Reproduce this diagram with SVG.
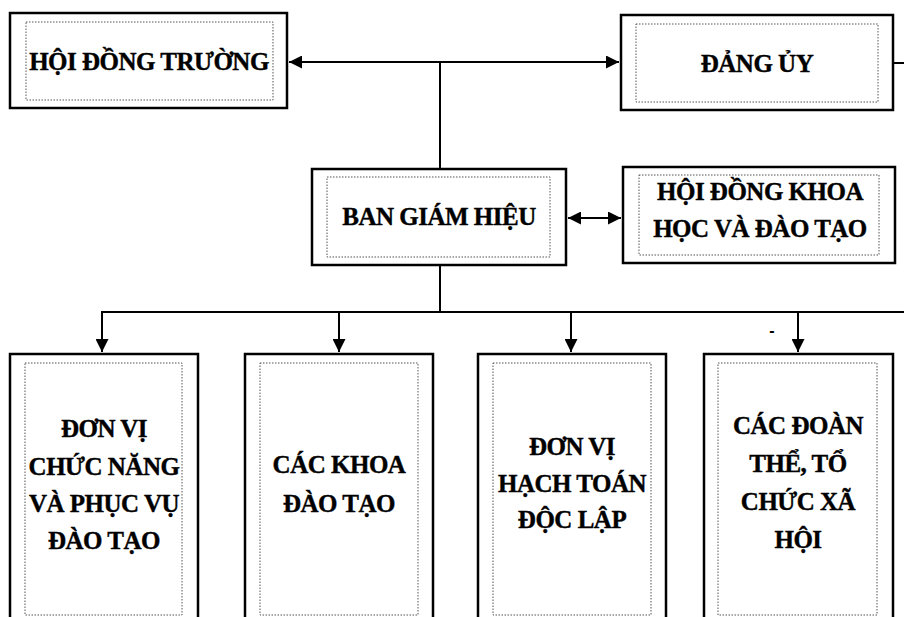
<svg xmlns="http://www.w3.org/2000/svg" width="904" height="617" viewBox="0 0 904 617">
<style>
.outer{fill:#fff;stroke:#000;stroke-width:2.5}
.inner{fill:none;stroke:#555;stroke-width:1;stroke-dasharray:1.5 1.5}
.t{font-family:"Liberation Serif","Times New Roman",serif;font-weight:bold;font-size:25px;letter-spacing:-0.5px;fill:#000;stroke:#000;stroke-width:0.4;text-anchor:middle}
.c{fill:none;stroke:#000;stroke-width:2}
</style>
<defs>
<marker id="ah" viewBox="0 0 10 10" refX="10" refY="5" markerWidth="6.5" markerHeight="6.5" orient="auto-start-reverse" markerUnits="strokeWidth">
<path d="M0,0 L10,5 L0,10 Z" fill="#000"/>
</marker>
</defs>
<rect width="904" height="617" fill="#fff"/>
<g id="connectors">
<line class="c" x1="289" y1="62" x2="619" y2="62" marker-start="url(#ah)" marker-end="url(#ah)"/>
<line class="c" x1="440" y1="62" x2="440" y2="169"/>
<line class="c" x1="893" y1="63" x2="904" y2="63"/>
<line class="c" x1="568" y1="218" x2="621" y2="218" marker-start="url(#ah)" marker-end="url(#ah)"/>
<line class="c" x1="440" y1="265" x2="440" y2="312"/>
<line class="c" x1="101" y1="312" x2="904" y2="312"/>
<line class="c" x1="102" y1="312" x2="102" y2="352" marker-end="url(#ah)"/>
<line class="c" x1="339" y1="312" x2="339" y2="352" marker-end="url(#ah)"/>
<line class="c" x1="571" y1="312" x2="571" y2="352" marker-end="url(#ah)"/>
<line class="c" x1="798" y1="312" x2="798" y2="352" marker-end="url(#ah)"/>
</g>
<g id="hoi-dong-truong">
<rect class="outer" x="10" y="13" width="277" height="95"/>
<rect class="inner" x="26" y="22" width="247" height="78"/>
<text class="t" x="149" y="70">HỘI ĐỒNG TRƯỜNG</text>
</g>
<g id="dang-uy">
<rect class="outer" x="621" y="15" width="272" height="95"/>
<rect class="inner" x="636" y="24" width="242" height="78"/>
<text class="t" x="757" y="72">ĐẢNG ỦY</text>
</g>
<g id="ban-giam-hieu">
<rect class="outer" x="312" y="169" width="254" height="96"/>
<rect class="inner" x="327" y="177" width="223" height="80"/>
<text class="t" x="439" y="225">BAN GIÁM HIỆU</text>
</g>
<g id="hoi-dong-khoa-hoc">
<rect class="outer" x="623" y="167" width="272" height="96"/>
<rect class="inner" x="639" y="175" width="240" height="80"/>
<text class="t" x="760" y="200">HỘI ĐỒNG KHOA</text>
<text class="t" x="760" y="237">HỌC VÀ ĐÀO TẠO</text>
</g>
<g id="don-vi-chuc-nang">
<rect class="outer" x="10" y="354" width="188" height="280"/>
<rect class="inner" x="25" y="363" width="157" height="252"/>
<text class="t" x="104" y="437">ĐƠN VỊ</text>
<text class="t" x="104" y="475">CHỨC NĂNG</text>
<text class="t" x="104" y="512">VÀ PHỤC VỤ</text>
<text class="t" x="104" y="549">ĐÀO TẠO</text>
</g>
<g id="cac-khoa">
<rect class="outer" x="245" y="354" width="188" height="280"/>
<rect class="inner" x="260" y="363" width="158" height="252"/>
<text class="t" x="339" y="473">CÁC KHOA</text>
<text class="t" x="339" y="512">ĐÀO TẠO</text>
</g>
<g id="don-vi-hach-toan">
<rect class="outer" x="478" y="354" width="188" height="280"/>
<rect class="inner" x="493" y="363" width="158" height="252"/>
<text class="t" x="572" y="455">ĐƠN VỊ</text>
<text class="t" x="572" y="492">HẠCH TOÁN</text>
<text class="t" x="572" y="528">ĐỘC LẬP</text>
</g>
<g id="cac-doan-the">
<rect class="outer" x="704" y="354" width="189" height="280"/>
<rect class="inner" x="718" y="363" width="159" height="252"/>
<text class="t" x="798" y="434">CÁC ĐOÀN</text>
<text class="t" x="798" y="472">THỂ, TỔ</text>
<text class="t" x="798" y="510">CHỨC XÃ</text>
<text class="t" x="798" y="548">HỘI</text>
</g>
<text x="772" y="336" font-family="Liberation Sans, Arial, sans-serif" font-size="16" font-weight="bold" text-anchor="middle">-</text>
</svg>
